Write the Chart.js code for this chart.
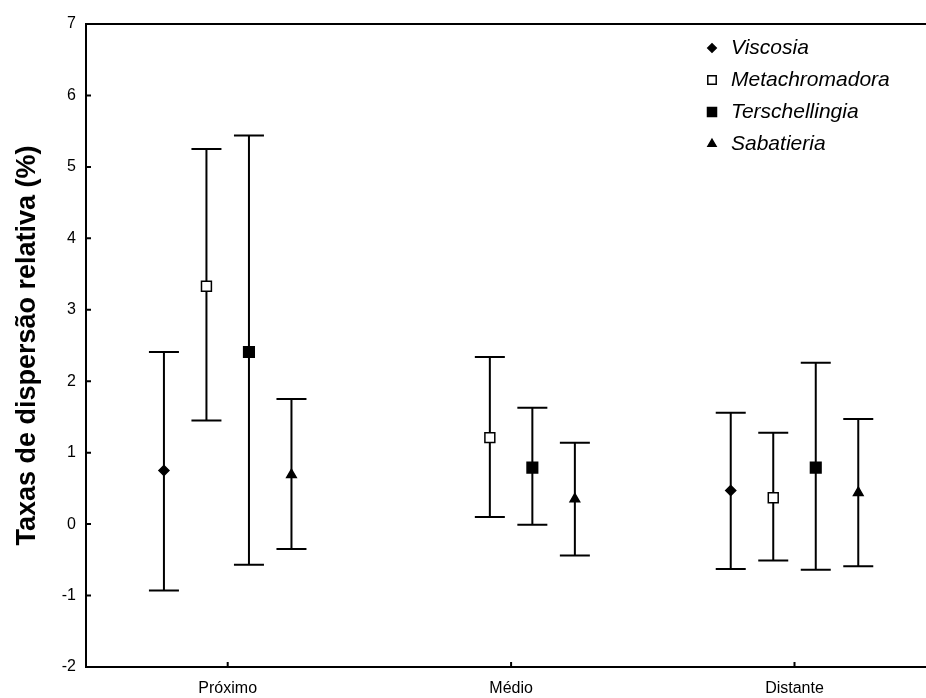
<!DOCTYPE html>
<html>
<head>
<meta charset="utf-8">
<script src="https://cdn.jsdelivr.net/npm/chart.js@4.4.1/dist/chart.umd.min.js"></script>
<style>
  html, body { margin: 0; padding: 0; background: #fff; }
  #wrap { width: 926px; height: 698px; }
</style>
</head>
<body>
<div id="wrap"><canvas id="myChart"></canvas></div>
<script>
const sites = ['Próximo', 'Médio', 'Distante']
const species = ['Viscosia', 'Metachromadora', 'Terschellingia', 'Sabatieria']
const yTicks = [-2, -1, 0, 1, 2, 3, 4, 5, 6, 7]

// mean and interval ends per site (null = not sampled)
const viscosiaMean = [0.75, null, 0.47]
const viscosiaLow = [-0.93, null, -0.63]
const viscosiaHigh = [2.41, null, 1.56]

const metachromadoraMean = [3.33, 1.21, 0.37]
const metachromadoraLow = [1.45, 0.10, -0.51]
const metachromadoraHigh = [5.25, 2.34, 1.28]

const terschellingiaMean = [2.41, 0.79, 0.79]
const terschellingiaLow = [-0.57, -0.01, -0.64]
const terschellingiaHigh = [5.44, 1.63, 2.26]

const sabatieriaMean = [0.69, 0.35, 0.44]
const sabatieriaLow = [-0.35, -0.44, -0.59]
const sabatieriaHigh = [1.75, 1.14, 1.47]

const means = [viscosiaMean, metachromadoraMean, terschellingiaMean, sabatieriaMean]
const lows = [viscosiaLow, metachromadoraLow, terschellingiaLow, sabatieriaLow]
const highs = [viscosiaHigh, metachromadoraHigh, terschellingiaHigh, sabatieriaHigh]

const offsets = [-0.225, -0.075, 0.075, 0.225]
const styles = [
  { pointStyle: 'rectRot', radius: 5, fill: '#000' },
  { pointStyle: 'rect', radius: 7, fill: '#fff' },
  { pointStyle: 'rect', radius: 7.5, fill: '#000' },
  { pointStyle: 'triangle', radius: 5.5, fill: '#000' }
]
const fontFamily = 'Arial, "Liberation Sans", sans-serif'

const errorBars = {
  id: 'errorBars',
  beforeDatasetsDraw(chart) {
    const { ctx, scales: { x, y } } = chart
    ctx.save()
    ctx.strokeStyle = '#000'
    ctx.lineWidth = 2
    species.forEach((name, s) => {
      sites.forEach((site, i) => {
        if (means[s][i] == null) return
        const px = x.getPixelForValue(i + 1 + offsets[s])
        const top = y.getPixelForValue(highs[s][i])
        const bot = y.getPixelForValue(lows[s][i])
        ctx.beginPath()
        ctx.moveTo(px, top)
        ctx.lineTo(px, bot)
        ctx.moveTo(px - 15, top)
        ctx.lineTo(px + 15, top)
        ctx.moveTo(px - 15, bot)
        ctx.lineTo(px + 15, bot)
        ctx.stroke()
      })
    })
    ctx.restore()
  }
}

const frame = {
  id: 'frame',
  afterDraw(chart) {
    const { ctx, chartArea, scales: { x, y } } = chart
    ctx.save()
    ctx.strokeStyle = '#000'
    ctx.lineWidth = 2
    ctx.beginPath()
    ctx.moveTo(chartArea.left - 1, chartArea.top)
    ctx.lineTo(chartArea.right, chartArea.top)
    yTicks.forEach(v => {
      const py = y.getPixelForValue(v)
      ctx.moveTo(chartArea.left, py)
      ctx.lineTo(chartArea.left + 5, py)
    })
    sites.forEach((s, i) => {
      const px = x.getPixelForValue(i + 1)
      ctx.moveTo(px, chartArea.bottom)
      ctx.lineTo(px, chartArea.bottom - 5)
    })
    ctx.stroke()

    // legend
    ctx.font = 'italic 21px ' + fontFamily
    ctx.textBaseline = 'middle'
    species.forEach((name, s) => {
      const ly = 48 + s * 32
      ctx.fillStyle = styles[s].fill
      ctx.strokeStyle = '#000'
      ctx.lineWidth = 1.5
      Chart.helpers.drawPoint(ctx, {
        pointStyle: styles[s].pointStyle,
        radius: styles[s].radius * 0.85,
        rotation: 0,
        borderWidth: 1.5
      }, 712, ly)
      ctx.fillStyle = '#000'
      ctx.fillText(name, 731, ly)
    })
    ctx.restore()
  }
}

const datasets = species.map((name, s) => ({
  label: name,
  data: sites.map((site, i) => means[s][i] == null ? null : { x: i + 1 + offsets[s], y: means[s][i] }).filter(p => p),
  pointStyle: styles[s].pointStyle,
  pointRadius: styles[s].radius,
  pointBackgroundColor: styles[s].fill,
  pointBorderColor: '#000',
  pointBorderWidth: 1.5,
  showLine: false
}))

const ctx = document.getElementById('myChart').getContext('2d')
const myChart = new Chart(ctx, {
  type: 'scatter',
  data: { datasets: datasets },
  options: {
    responsive: true,
    maintainAspectRatio: false,
    animation: false,
    events: [],
    layout: { autoPadding: false, padding: { top: 24, right: 0, bottom: 0, left: 0 } },
    plugins: { legend: { display: false }, tooltip: { enabled: false } },
    scales: {
      x: {
        type: 'linear',
        min: 0.5,
        max: 3.464,
        afterBuildTicks: scale => { scale.ticks = sites.map((s, i) => ({ value: i + 1 })) },
        afterFit: scale => { scale.height = 31 },
        ticks: {
          callback: v => sites[v - 1],
          color: '#000',
          font: { family: fontFamily, size: 16 },
          padding: 12,
          maxRotation: 0,
          autoSkip: false
        },
        grid: { display: false, drawTicks: false },
        border: { display: true, color: '#000', width: 2 }
      },
      y: {
        min: -2,
        max: 7,
        afterBuildTicks: scale => { scale.ticks = yTicks.map(v => ({ value: v })) },
        afterFit: scale => { scale.width = 86 },
        ticks: {
          color: '#000',
          font: { family: fontFamily, size: 16 },
          padding: 10
        },
        grid: { display: false, drawTicks: false },
        border: { display: true, color: '#000', width: 2 },
        title: {
          display: true,
          text: 'Taxas de dispersão relativa (%)',
          color: '#000',
          font: { family: fontFamily, size: 27, weight: 'bold' },
          padding: { top: 11, bottom: 0 }
        }
      }
    }
  },
  plugins: [errorBars, frame]
})
</script>
</body>
</html>
